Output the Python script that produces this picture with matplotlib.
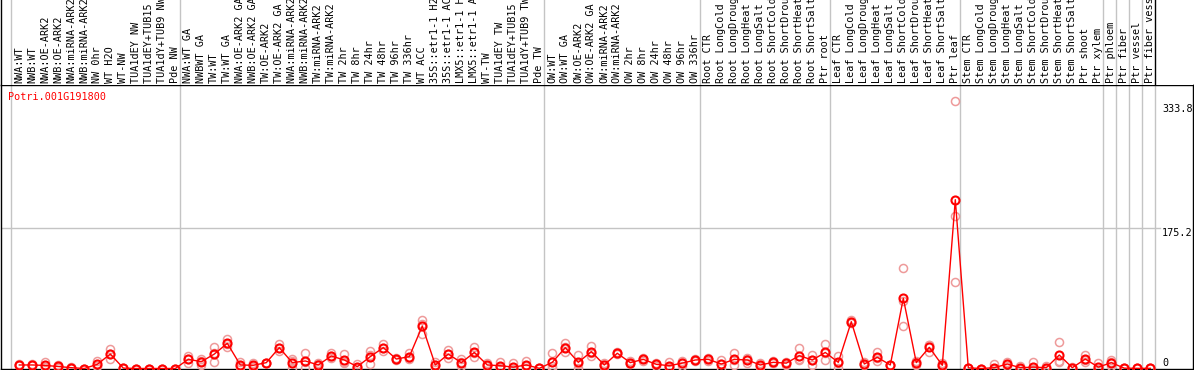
import matplotlib
matplotlib.use("Agg")
import matplotlib.pyplot as plt
import numpy as np

gene = "Potri.001G191800"

labels = [
    "NWA:WT", "NWB:WT", "NWA:OE-ARK2", "NWB:OE-ARK2", "NWA:miRNA-ARK2", "NWB:miRNA-ARK2",
    "NW 0hr", "WT H2O", "WT-NW", "TUA1dEY NW", "TUA1dEY+TUB15 NW", "TUA1dY+TUB9 NW", "Pde NW",
    "NWA:WT GA", "NWBWT GA", "TW:WT", "TW:WT GA", "NWA:OE-ARK2 GA", "NWB:OE-ARK2 GA",
    "TW:OE-ARK2", "TW:OE-ARK2 GA", "NWA:miRNA-ARK2 GA", "NWB:miRNA-ARK2 GA", "TW:miRNA-ARK2",
    "TW:miRNA-ARK2 GA", "TW 2hr", "TW 8hr", "TW 24hr", "TW 48hr", "TW 96hr", "TW 336hr",
    "WT ACC", "35S::etr1-1 H2O", "35S::etr1-1 ACC", "LMX5::etr1-1 H2O", "LMX5::etr1-1 ACC",
    "WT-TW", "TUA1dEY TW", "TUA1dEY+TUB15 TW", "TUA1dY+TUB9 TW", "Pde TW",
    "OW:WT", "OW:WT GA", "OW:OE-ARK2", "OW:OE-ARK2 GA", "OW:miRNA-ARK2", "OW:miRNA-ARK2 GA",
    "OW 2hr", "OW 8hr", "OW 24hr", "OW 48hr", "OW 96hr", "OW 336hr",
    "Root CTR", "Root LongCold", "Root LongDrought", "Root LongHeat", "Root LongSalt",
    "Root ShortCold", "Root ShortDrought", "Root ShortHeat", "Root ShortSalt", "Ptr root",
    "Leaf CTR", "Leaf LongCold", "Leaf LongDrought", "Leaf LongHeat", "Leaf LongSalt",
    "Leaf ShortCold", "Leaf ShortDrought", "Leaf ShortHeat", "Leaf ShortSalt", "Ptr leaf",
    "Stem CTR", "Stem LongCold", "Stem LongDrought", "Stem LongHeat", "Stem LongSalt",
    "Stem ShortCold", "Stem ShortDrought", "Stem ShortHeat", "Stem ShortSalt", "Ptr shoot",
    "Ptr xylem", "Ptr phloem", "Ptr fiber", "Ptr vessel", "Ptr fiber vessel",
]
group_sizes = [13, 28, 12, 10, 10, 11, 1, 1, 1, 1]

mean = [4.4, 4.4, 3.8, 2.5, 1, 0, 5.2, 18, 0.5, 0, 0, 0, 0,
        11.5, 8.5, 18, 31.4, 4.4, 4, 7.3, 26, 7.3, 9.4, 4.4, 15.6, 10.6, 2.3, 14.8, 26,
        11.8, 14.8, 53, 4.4, 18, 7.3, 20, 4.4, 3.5, 1.7, 4.4, 0.2,
        7.7, 26, 7.7, 21, 4.4, 19, 7.3, 11.4, 5.2, 3.5, 6.7, 10.6,
        11.4, 5.6, 11.4, 10.6, 4.4, 7.7, 6.7, 16, 10.6, 20,
        7.7, 58.4, 5.6, 14, 4.4, 87.5, 7.3, 26.4, 4, 210.5,
        0.8, 0, 1, 5.6, 1, 1.7, 1, 16.8, 1, 11.8, 1.7,
        7.3, 0.4, 0.2, 0.2]
rep1 = [5, 4, 7.7, 4.4, 1.5, 0, 9.3, 24, 1, 0, 0, 0, 0,
        16, 11.5, 26.4, 36.8, 8.5, 7.3, 7.3, 30.5, 11.5, 19, 7.3, 19, 17.7, 5.2, 22, 30.5,
        13, 19, 60.5, 8.5, 23, 11.5, 26.4, 6.5, 7.7, 6.3, 9.4, 0.3,
        19, 31.8, 16.8, 28.5, 6.7, 20.3, 9.4, 13.5, 7.3, 7.7, 9.4, 9.4,
        13.5, 10.6, 19, 13.5, 7.3, 9.4, 8.5, 25, 16.8, 30,
        15.6, 60, 7.7, 20.3, 4.4, 125, 9.4, 29, 7, 333.8,
        1, 0, 5.2, 7.7, 3, 7.7, 3, 32.6, 1.5, 16.8, 7.3,
        8.5, 0.4, 0.2, 0.2]
rep2 = [4, 5, 2, 1, 0.5, 0, 3, 12, 0.3, 0, 0, 0, 0,
        7, 4.4, 8.5, 27, 2, 2, 7.3, 22, 0.8, 0.8, 1, 12.7, 6.7, 0.5, 5.2, 22,
        10.5, 11.8, 42.6, 0.5, 13.5, 2.5, 14.8, 3, 0.8, 0, 0.8, 0.2,
        0.8, 20, 0.5, 15.6, 2.3, 17.7, 5.6, 9.4, 2.5, 0.8, 3.5, 11.5,
        9.4, 0.8, 4.4, 6.7, 2.3, 6.3, 4.8, 10.6, 4.4, 10.6,
        0.8, 57, 4, 9, 4.4, 53, 4.8, 21, 2, 190,
        0.5, 0, 0, 3.5, 0, 0, 0, 8.5, 0.5, 8.5, 0,
        3, 0.4, 0.2, 0.2]
rep3 = [4.5, 4, 2, 2, 1, 0, 3.5, 18, 0.2, 0, 0, 0, 0,
        11.5, 9.5, 19, 30.5, 2.7, 2.7, 7.3, 25.5, 9.6, 8.4, 5, 15, 7.5, 1.2, 17, 25.5,
        12, 13.5, 56, 4.2, 17.5, 8, 19, 3.7, 2, 0, 3, 0.1,
        3.3, 26.2, 5.8, 19, 4.2, 19, 7, 11.3, 5.8, 2, 7.2, 10.9,
        11.3, 5.4, 10.8, 11.6, 3.6, 7.4, 6.8, 12.4, 10.6, 19.4,
        6.7, 58, 5.1, 12.7, 4.4, 84.5, 7.7, 29.2, 3, 107.5,
        0.9, 0, 0, 5.6, 0, 0, 0, 9.3, 1, 10.1, 0,
        10.4, 0.4, 0.2, 0.2]

y_ticks = [333.8, 175.2, 0]

W, H = 1194, 370
fig = plt.figure(figsize=(W / 100, H / 100), dpi=100)
font = dict(family="DejaVu Sans Mono", size=7.25)
grey = "#c4c4c4"

def fx(px):
    return px / W

def fy(py):
    return 1 - py / H

# pixel -> index mapping: x_px = 19.3 + 13 * i
x0, dx = 19.3, 13.0
xlim = ((0.5 - x0) / dx, (1193 - x0) / dx)
scale = (368.5 - 228) / 175.2
ylim = ((368.5 - 369) / scale, (368.5 - 85) / scale)

ax = fig.add_axes([fx(0.5), fy(369), fx(1193) - fx(0.5), fy(85) - fy(369)])
axh = fig.add_axes([fx(0.5), fy(85), fx(1193) - fx(0.5), fy(0) - fy(85)])

starts = np.concatenate([[0], np.cumsum(group_sizes)])
seps = starts - 0.64

for a in (ax, axh):
    a.set_xlim(*xlim)
    a.set_xticks([])
    a.set_yticks([])

ax.set_ylim(*ylim)
for s in ax.spines.values():
    s.set_linewidth(1.0)
    s.set_color("black")

for s in seps:
    ax.axvline(s, color=grey, lw=1, zorder=1)
for s in seps[:-1]:
    axh.axvline(s, color=grey, lw=1)
axh.axvline(seps[-1], color="black", lw=1)
ax.axhline(175.2, xmin=0, xmax=(1160 - 0.5) / 1192.5, color=grey, lw=1, zorder=1)

axh.set_ylim(0, 1)
for k in ("top", "right", "bottom"):
    axh.spines[k].set_visible(False)
axh.spines["left"].set_linewidth(1.0)

x = np.arange(len(labels))
for i, lab in enumerate(labels):
    axh.text(i, 2 / 85, lab, rotation=90, ha="center", va="bottom",
             color="black", **font)

for r in (rep1, rep2, rep3):
    ax.plot(x, r, ls="none", marker="o", ms=5.8, mfc="none", mec="#ee9a9a",
            mew=1.1, zorder=3, clip_on=False)
ax.plot(x, mean, color="red", lw=1, marker="o", ms=5.8, mfc="none", mec="red",
        mew=1.5, zorder=4, clip_on=False)

tx = (1162 - x0) / dx
ax.text(tx, y_ticks[0] - 3 / scale, f"{y_ticks[0]}", ha="left", va="top", **font)
ax.text(tx, y_ticks[1], f"{y_ticks[1]}", ha="left", va="top", **font)
ax.text(tx, y_ticks[2], f"{y_ticks[2]:g}", ha="left", va="bottom", **font)

fig.text(fx(8), fy(97), gene, color="red", ha="left", va="center", **font)

fig.savefig("out.png", dpi=100)
